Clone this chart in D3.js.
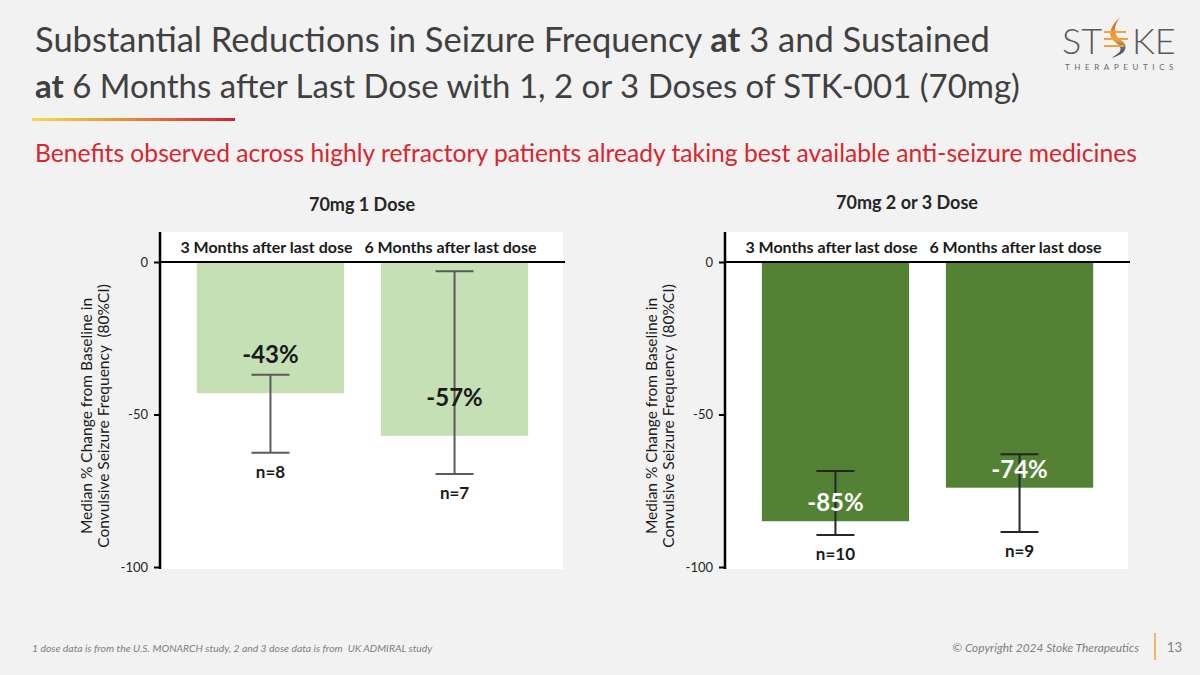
<!DOCTYPE html>
<html>
<head>
<meta charset="utf-8">
<script src="https://cdn.jsdelivr.net/npm/d3@7"></script>
<style>
  html, body { margin: 0; padding: 0; background: #f2f2f2; }
  svg { display: block; font-family: Lato, "Open Sans", sans-serif; }
</style>
</head>
<body>
<script>
// ---------------- DATA ----------------
const categories = ["3 Months after last dose", "6 Months after last dose"];
const panelTitles = ["70mg 1 Dose", "70mg 2 or 3 Dose"];
const oneDoseMedian = [-43, -57];
const oneDoseCILow = [-62.5, -69.5];
const oneDoseCIHigh = [-37, -3];
const oneDoseN = ["n=8", "n=7"];
const multiDoseMedian = [-85, -74];
const multiDoseCILow = [-89.5, -88.5];
const multiDoseCIHigh = [-68.5, -63];
const multiDoseN = ["n=10", "n=9"];
const yTicks = [0, -50, -100];
const yAxisTitle = ["Median % Change from Baseline in", "Convulsive Seizure Frequency  (80%CI)"];

const W = 1200, H = 675;
const svg = d3.select("body").append("svg").attr("width", W).attr("height", H);

svg.append("rect").attr("width", W).attr("height", H).attr("fill", "#f2f2f2");

function fitWidth(sel, target) {
  const w = sel.node().getComputedTextLength();
  const fs = parseFloat(sel.attr("font-size"));
  sel.attr("font-size", (fs * target / w).toFixed(2));
}

// ---------------- TITLE ----------------
const titleColor = "#404040";
const t1 = svg.append("text").attr("x", 35).attr("y", 52).attr("font-size", 34).attr("fill", titleColor);
t1.append("tspan").text("Substantial Reductions in Seizure Frequency ");
t1.append("tspan").attr("font-weight", "bold").text("at");
t1.append("tspan").text(" 3 and Sustained");
fitWidth(t1, 955);
const t2 = svg.append("text").attr("x", 35).attr("y", 98).attr("font-size", 34).attr("fill", titleColor);
t2.append("tspan").attr("font-weight", "bold").text("at");
t2.append("tspan").text(" 6 Months after Last Dose with 1, 2 or 3 Doses of STK-001 (70mg)");
fitWidth(t2, 985);

// gradient rule
const defs = svg.append("defs");
const lg = defs.append("linearGradient").attr("id", "rule").attr("x1", "0%").attr("x2", "100%");
lg.append("stop").attr("offset", "0%").attr("stop-color", "#f4dc4a");
lg.append("stop").attr("offset", "40%").attr("stop-color", "#eb9a34");
lg.append("stop").attr("offset", "100%").attr("stop-color", "#d21f36");
svg.append("rect").attr("x", 32).attr("y", 118).attr("width", 203).attr("height", 3).attr("fill", "url(#rule)");

// subtitle
const sub = svg.append("text").attr("x", 35).attr("y", 162).attr("font-size", 24).attr("fill", "#d9262e")
  .text("Benefits observed across highly refractory patients already taking best available anti-seizure medicines");
fitWidth(sub, 1102);

// ---------------- LOGO ----------------
const logo = svg.append("g");
logo.append("text").attr("x", 1062).attr("y", 54).attr("font-size", 36).attr("font-weight", 300)
  .attr("fill", "#5a5a5a").text("ST");
logo.append("text").attr("x", 1132).attr("y", 54).attr("font-size", 36).attr("font-weight", 300)
  .attr("fill", "#5a5a5a").text("KE");
const fg = defs.append("linearGradient").attr("id", "flame").attr("x1", "0%").attr("y1", "0%").attr("x2", "0%").attr("y2", "100%");
fg.append("stop").attr("offset", "0%").attr("stop-color", "#e0402a");
fg.append("stop").attr("offset", "55%").attr("stop-color", "#f2a93b");
fg.append("stop").attr("offset", "75%").attr("stop-color", "#6b6b6b");
fg.append("stop").attr("offset", "100%").attr("stop-color", "#3a3a3a");
logo.append("path").attr("d", "M1120,17 C1109,28 1107,36 1115,42 C1123,48 1123,52 1111,58 C1127,54 1129,46 1121,40 C1113,34 1113,27 1120,17 Z")
  .attr("fill", "url(#flame)");
logo.append("path").attr("d", "M1104,32 H1126 M1104,39 H1128 M1104,46 H1124").attr("stroke", "#f0a23a").attr("stroke-width", 2.2).attr("fill", "none");
logo.append("text").attr("x", 1065).attr("y", 70).attr("font-size", 8).attr("fill", "#6a6a6a")
  .attr("letter-spacing", 4.6).text("THERAPEUTICS");

// ---------------- PANELS ----------------
const y = d3.scaleLinear().domain([0, -100]).range([262, 567]);

const panels = [
  { title: panelTitles[0], median: oneDoseMedian, low: oneDoseCILow, high: oneDoseCIHigh, n: oneDoseN,
    x0: 160, x1: 565, fill: "#c5e0b4", labelFill: "#1a1a1a", labelOffset: 30, err: "#5a5a5a", titleX: 362, titleY: 211 },
  { title: panelTitles[1], median: multiDoseMedian, low: multiDoseCILow, high: multiDoseCIHigh, n: multiDoseN,
    x0: 725, x1: 1130, fill: "#548235", labelFill: "#ffffff", labelOffset: 10, err: "#262626", titleX: 907, titleY: 209 }
];

panels.forEach(p => {
  const g = svg.append("g");
  const x = d3.scaleBand().domain(categories).range([p.x0, p.x1]).paddingInner(0.2).paddingOuter(0.2);

  // white plot area
  g.append("rect").attr("x", p.x0).attr("y", 232).attr("width", p.x1 - p.x0 - 2).attr("height", 337).attr("fill", "#ffffff");

  // panel title
  g.append("text").attr("x", p.titleX).attr("y", p.titleY).attr("text-anchor", "middle")
    .attr("font-size", 18).attr("font-weight", "bold").attr("fill", "#262626").text(p.title);

  // category labels
  g.selectAll(".cat").data(categories).join("text")
    .attr("x", d => x(d) + x.bandwidth() / 2 - 4).attr("y", 253)
    .attr("text-anchor", "middle").attr("font-size", 16).attr("font-weight", "bold").attr("fill", "#1a1a1a")
    .text(d => d);

  // bars
  g.selectAll(".bar").data(p.median).join("rect")
    .attr("x", (d, i) => x(categories[i])).attr("width", x.bandwidth())
    .attr("y", y(0)).attr("height", d => y(d) - y(0)).attr("fill", p.fill);

  // axis
  const axis = d3.axisLeft(y).tickValues(yTicks).tickSize(6).tickPadding(6).tickFormat(d => String(d));
  const ag = g.append("g").attr("transform", `translate(${p.x0},0)`).call(axis);
  ag.select(".domain").remove();
  ag.selectAll(".tick line").attr("stroke", "#000").attr("stroke-width", 2);
  ag.selectAll(".tick text").attr("font-size", 13).attr("fill", "#262626").attr("font-family", "Lato, sans-serif");
  g.append("line").attr("x1", p.x0).attr("x2", p.x0).attr("y1", 232).attr("y2", 569).attr("stroke", "#000").attr("stroke-width", 2.5);
  g.append("line").attr("x1", p.x0).attr("x2", p.x1).attr("y1", y(0)).attr("y2", y(0)).attr("stroke", "#000").attr("stroke-width", 2);

  // y title
  const cy = 416, cx = p.x0 - 68;
  yAxisTitle.forEach((t, i) => {
    g.append("text").attr("transform", `translate(${cx + i * 17},${cy}) rotate(-90)`)
      .attr("text-anchor", "middle").attr("font-size", 15.5).attr("fill", "#1a1a1a")
      .attr("xml:space", "preserve").style("white-space", "pre").text(t);
  });

  // error bars
  const eb = g.selectAll(".eb").data(p.median).join("g");
  eb.append("line")
    .attr("x1", (d, i) => x(categories[i]) + x.bandwidth() / 2).attr("x2", (d, i) => x(categories[i]) + x.bandwidth() / 2)
    .attr("y1", (d, i) => y(p.high[i])).attr("y2", (d, i) => y(p.low[i]))
    .attr("stroke", p.err).attr("stroke-width", 2);
  [p.high, p.low].forEach(arr => {
    eb.append("line")
      .attr("x1", (d, i) => x(categories[i]) + x.bandwidth() / 2 - 19).attr("x2", (d, i) => x(categories[i]) + x.bandwidth() / 2 + 19)
      .attr("y1", (d, i) => y(arr[i])).attr("y2", (d, i) => y(arr[i]))
      .attr("stroke", p.err).attr("stroke-width", 2);
  });

  // value labels
  g.selectAll(".val").data(p.median).join("text")
    .attr("x", (d, i) => x(categories[i]) + x.bandwidth() / 2).attr("y", d => y(d) - p.labelOffset)
    .attr("text-anchor", "middle").attr("font-size", 24).attr("font-weight", "bold").attr("fill", p.labelFill)
    .text(d => `${d}%`);

  // n labels
  g.selectAll(".n").data(p.n).join("text")
    .attr("x", (d, i) => x(categories[i]) + x.bandwidth() / 2).attr("y", (d, i) => y(p.low[i]) + 25)
    .attr("text-anchor", "middle").attr("font-size", 17).attr("font-weight", "bold").attr("fill", "#1a1a1a")
    .text(d => d);
});

// ---------------- FOOTER ----------------
const fl = svg.append("text").attr("x", 32).attr("y", 652).attr("font-size", 12).attr("font-style", "italic").attr("fill", "#7f7f7f")
  .attr("xml:space", "preserve").style("white-space", "pre")
  .text("1 dose data is from the U.S. MONARCH study, 2 and 3 dose data is from  UK ADMIRAL study");
fitWidth(fl, 401);
const fr = svg.append("text").attr("x", 1139).attr("y", 652).attr("text-anchor", "end").attr("font-size", 12).attr("font-style", "italic").attr("fill", "#7f7f7f")
  .text("© Copyright 2024 Stoke Therapeutics");
fitWidth(fr, 187);
svg.append("line").attr("x1", 1155).attr("x2", 1155).attr("y1", 633).attr("y2", 660).attr("stroke", "#f0a23a").attr("stroke-width", 1.5);
svg.append("text").attr("x", 1167).attr("y", 652).attr("font-size", 13).attr("fill", "#7f7f7f").text("13");
</script>
</body>
</html>
